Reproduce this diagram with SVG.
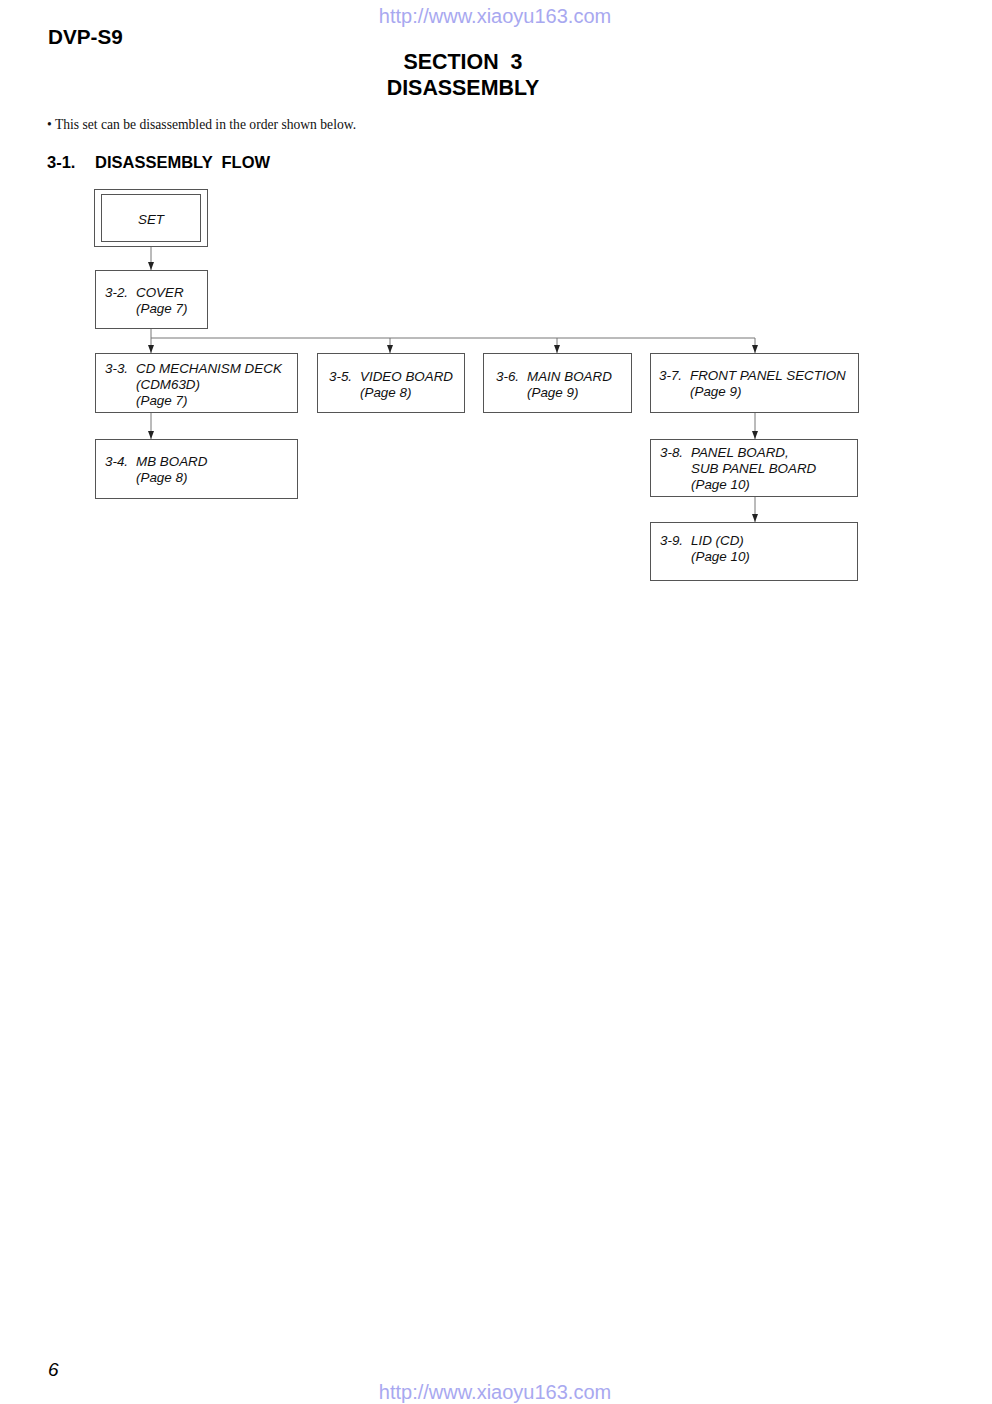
<svg xmlns="http://www.w3.org/2000/svg" width="992" height="1404" viewBox="0 0 992 1404">
<defs>
<marker id="arr" viewBox="0 0 8 6" refX="8" refY="3" markerWidth="8" markerHeight="6" markerUnits="userSpaceOnUse" orient="auto">
<path d="M0,0 L8,3 L0,6 Z" fill="#222"/>
</marker>
<style>
.box{fill:#fff;stroke:#555;stroke-width:1}
.lbl{font-family:"Liberation Sans",Arial,sans-serif;font-style:italic;font-size:13.4px;fill:#111}
.con{fill:none;stroke:#777;stroke-width:1}
.hd{font-family:"Liberation Sans",Arial,sans-serif;font-weight:bold;fill:#000;white-space:pre}
.url{font-family:"Liberation Sans",Arial,sans-serif;font-size:20px;fill:#a8a8f0}
</style>
</defs>
<rect width="992" height="1404" fill="#fff"/>
<text class="url" x="495" y="23" text-anchor="middle">http://www.xiaoyu163.com</text>
<text class="url" x="495" y="1399" text-anchor="middle">http://www.xiaoyu163.com</text>
<text class="hd" x="48" y="44" font-size="20.7">DVP-S9</text>
<text class="hd" x="463" y="69" font-size="21.4" text-anchor="middle">SECTION  3</text>
<text class="hd" x="463" y="95" font-size="21.4" text-anchor="middle">DISASSEMBLY</text>
<text x="47" y="129" font-family="Liberation Serif,'Times New Roman',serif" font-size="13.6" fill="#111">• This set can be disassembled in the order shown below.</text>
<text class="hd" x="47" y="168" font-size="16.5">3-1.<tspan x="95">DISASSEMBLY  FLOW</tspan></text>
<text x="48" y="1376" font-family="Liberation Sans,Arial,sans-serif" font-style="italic" font-size="19" fill="#000">6</text>

<g id="connectors">
<line class="con" x1="151" y1="246" x2="151" y2="270" marker-end="url(#arr)"/>
<path class="con" d="M151,328 V338 H755"/>
<line class="con" x1="151" y1="338" x2="151" y2="353" marker-end="url(#arr)"/>
<line class="con" x1="390" y1="338" x2="390" y2="353" marker-end="url(#arr)"/>
<line class="con" x1="557" y1="338" x2="557" y2="353" marker-end="url(#arr)"/>
<line class="con" x1="755" y1="338" x2="755" y2="353" marker-end="url(#arr)"/>
<line class="con" x1="151" y1="412" x2="151" y2="439" marker-end="url(#arr)"/>
<line class="con" x1="755" y1="412" x2="755" y2="439" marker-end="url(#arr)"/>
<line class="con" x1="755" y1="496" x2="755" y2="522" marker-end="url(#arr)"/>
</g>

<g id="set">
<rect class="box" x="94.5" y="189.5" width="113" height="57"/>
<rect class="box" x="101.5" y="194.5" width="99" height="47"/>
<text class="lbl" x="151" y="224" text-anchor="middle">SET</text>
</g>
<g id="cover">
<rect class="box" x="95.5" y="270.5" width="112" height="58"/>
<text class="lbl" x="105" y="297">3-2.<tspan x="136">COVER</tspan></text>
<text class="lbl" x="136" y="313">(Page 7)</text>
</g>
<g id="cd-mech">
<rect class="box" x="95.5" y="353.5" width="202" height="59"/>
<text class="lbl" x="105" y="373">3-3.<tspan x="136">CD MECHANISM DECK</tspan></text>
<text class="lbl" x="136" y="389">(CDM63D)</text>
<text class="lbl" x="136" y="405">(Page 7)</text>
</g>
<g id="mb-board">
<rect class="box" x="95.5" y="439.5" width="202" height="59"/>
<text class="lbl" x="105" y="466">3-4.<tspan x="136">MB BOARD</tspan></text>
<text class="lbl" x="136" y="482">(Page 8)</text>
</g>
<g id="video-board">
<rect class="box" x="317.5" y="353.5" width="147" height="59"/>
<text class="lbl" x="329" y="381">3-5.<tspan x="360">VIDEO BOARD</tspan></text>
<text class="lbl" x="360" y="397">(Page 8)</text>
</g>
<g id="main-board">
<rect class="box" x="483.5" y="353.5" width="148" height="59"/>
<text class="lbl" x="496" y="381">3-6.<tspan x="527">MAIN BOARD</tspan></text>
<text class="lbl" x="527" y="397">(Page 9)</text>
</g>
<g id="front-panel">
<rect class="box" x="650.5" y="353.5" width="208" height="59"/>
<text class="lbl" x="659" y="380">3-7.<tspan x="690">FRONT PANEL SECTION</tspan></text>
<text class="lbl" x="690" y="396">(Page 9)</text>
</g>
<g id="panel-board">
<rect class="box" x="650.5" y="439.5" width="207" height="57"/>
<text class="lbl" x="660" y="457">3-8.<tspan x="691">PANEL BOARD,</tspan></text>
<text class="lbl" x="691" y="473">SUB PANEL BOARD</text>
<text class="lbl" x="691" y="489">(Page 10)</text>
</g>
<g id="lid">
<rect class="box" x="650.5" y="522.5" width="207" height="58"/>
<text class="lbl" x="660" y="545">3-9.<tspan x="691">LID (CD)</tspan></text>
<text class="lbl" x="691" y="561">(Page 10)</text>
</g>
</svg>
